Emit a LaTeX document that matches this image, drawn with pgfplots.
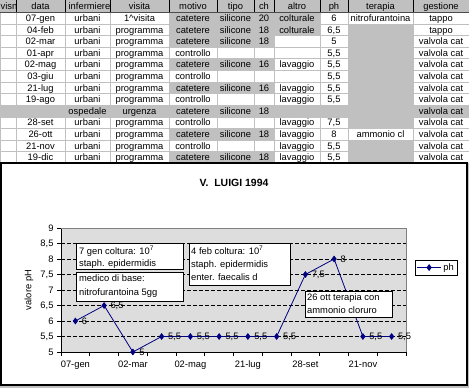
\documentclass[border=0pt]{standalone}
\usepackage{fontspec}
\setmainfont{Liberation Sans}
\usepackage{pgfplots}
\pgfplotsset{compat=1.18}
\definecolor{xlgray}{RGB}{192,192,192}
\definecolor{plotgray}{RGB}{221,221,221}
\definecolor{xnavy}{RGB}{0,0,128}
\definecolor{bordergray}{RGB}{128,128,128}
\newcommand{\cx}[1]{\ifcase\numexpr#1\relax 0\or 16\or 65\or 110\or 169\or 217\or 254\or 274\or 320\or 348\or 413\or 469\fi}
\newcommand{\wrow}[2]{%
 \foreach \c in {#2}{%
  \edef\xa{\cx{\c}}\edef\xb{\cx{\c+1}}%
  \pgfmathsetmacro{\ya}{12+(#1-1)*11.615}%
  \fill[white] (\xa+1,\ya+1) rectangle (\xb,\ya+11.615);}}
\newcommand{\ct}[3]{%
  \edef\xa{\cx{#2}}\edef\xb{\cx{#2+1}}%
  \pgfmathsetmacro{\xm}{(\xa+\xb)/2}%
  \pgfmathsetmacro{\yb}{12+(#1-1)*11.615+9.4}%
  \node[anchor=base,inner sep=0pt] at (\xm,\yb) {#3};}
\newcommand{\trow}[2]{\foreach \c/\t in {#2}{\ct{#1}{\c}{\t}}}
\newcommand{\tf}{\fontsize{9.4}{11}\selectfont}
\begin{document}
\begin{tikzpicture}[every node/.style={font=\tf}]
\useasboundingbox (0,0) rectangle (469bp,388bp);
\begin{scope}[x=1bp,y=-1bp,shift={(0,388bp)}]
\fill[xlgray] (0,0) rectangle (469,388);
% white cells
\wrow{1}{0,1,2,3,8,9,10}
\wrow{2}{0,1,2,3,8,10}
\wrow{3}{0,1,2,3,7,8,10}
\wrow{4}{0,1,2,3,4,5,6,7,8,10}
\wrow{5}{0,1,2,3,7,8,10}
\wrow{6}{0,1,2,3,4,5,6,7,8,10}
\wrow{7}{0,1,2,3,7,8,10}
\wrow{8}{0,1,2,3,4,5,6,7,8,10}
\wrow{10}{0,1,2,3,4,5,6,7,8,10}
\wrow{11}{0,1,2,3,7,8,9,10}
\wrow{12}{0,1,2,3,4,5,6,7,8,10}
\wrow{13}{0,1,2,3,7,8,10}
% header
\foreach \xx in {16,65,110,169,217,254,274,320,348,413}{\draw[black,line width=0.8bp] (\xx,0) -- (\xx,12.5);}
\draw[black!70,line width=0.8bp] (0,12.4) -- (469,12.4);
\begin{scope}\clip (0,0) rectangle (15.6,12);
\node[anchor=base west,inner sep=0pt] at (0.5,9.6) {visn};\end{scope}
\begin{scope}\clip (65.4,0) rectangle (110,12);
\node[anchor=base east,inner sep=0pt] at (110.5,9.6) {infermiere};\end{scope}
\foreach \c/\t in {1/data,3/visita,4/motivo,5/tipo,6/ch,7/altro,8/ph,9/terapia,10/gestione}{%
  \edef\xa{\cx{\c}}\edef\xb{\cx{\c+1}}%
  \pgfmathsetmacro{\xm}{(\xa+\xb)/2}%
  \node[anchor=base,inner sep=0pt] at (\xm,9.6) {\t};}
% data rows
\trow{1}{1/07-gen,2/urbani,3/1\textasciicircum visita,4/catetere,5/silicone,6/20,7/colturale,8/6,9/nitrofurantoina,10/tappo}
\trow{2}{1/04-feb,2/urbani,3/programma,4/catetere,5/silicone,6/18,7/colturale,8/{6,5},10/tappo}
\trow{3}{1/02-mar,2/urbani,3/programma,4/catetere,5/silicone,6/18,8/5,10/valvola cat}
\trow{4}{1/01-apr,2/urbani,3/programma,4/controllo,8/{5,5},10/valvola cat}
\trow{5}{1/02-mag,2/urbani,3/programma,4/catetere,5/silicone,6/16,7/lavaggio,8/{5,5},10/valvola cat}
\trow{6}{1/03-giu,2/urbani,3/programma,4/controllo,8/{5,5},10/valvola cat}
\trow{7}{1/21-lug,2/urbani,3/programma,4/catetere,5/silicone,6/16,7/lavaggio,8/{5,5},10/valvola cat}
\trow{8}{1/19-ago,2/urbani,3/programma,4/controllo,7/lavaggio,8/{5,5},10/valvola cat}
\trow{9}{2/ospedale,3/urgenza,4/catetere,5/silicone,6/18,10/valvola cat}
\trow{10}{1/28-set,2/urbani,3/programma,4/controllo,7/lavaggio,8/{7,5},10/valvola cat}
\trow{11}{1/26-ott,2/urbani,3/programma,4/catetere,5/silicone,6/18,7/lavaggio,8/8,9/ammonio cl,10/valvola cat}
\trow{12}{1/21-nov,2/urbani,3/programma,4/controllo,7/lavaggio,8/{5,5},10/valvola cat}
\trow{13}{1/19-dic,2/urbani,3/programma,4/catetere,5/silicone,6/18,7/lavaggio,8/{5,5},10/valvola cat}
% chart frame
\draw[black,line width=2bp,fill=white] (1.5,163.5) rectangle (466.5,385.5);
\node[font=\fontsize{10.5}{12}\selectfont\bfseries] at (234,182.5) {V.\ \ LUIGI 1994};
\node[rotate=90] at (29,290) {valore pH};
\end{scope}
\begin{axis}[
  at={(61bp,36bp)}, anchor=south west,
  scale only axis, width=345bp, height=124bp,
  xmin=0.5, xmax=12.5, ymin=5, ymax=9,
  clip=false,
  axis background/.style={fill=plotgray},
  axis x line*=bottom, axis y line*=left,
  axis line style={-, black, line width=0.8bp},
  ytick={5,5.5,...,9},
  ymajorgrids,
  grid style={black, dash pattern=on 3.5bp off 2.5bp, line width=0.6bp},
  xtick={0.5,1.5,...,12.5}, xticklabels={},
  extra x ticks={1,3,5,7,9,11},
  extra x tick labels={07-gen,02-mar,02-mag,21-lug,28-set,21-nov},
  extra x tick style={major tick length=0pt, grid=none, xticklabel style={yshift=-5bp}},
  tick align=outside, major tick length=4bp,
  xtick pos=bottom, ytick pos=left,
  tick style={black, line width=0.8bp},
  ticklabel style={font=\tf},
  /pgf/number format/use comma,
  /pgf/number format/assume math mode=true,
  legend style={at={(1.026,0.681)}, anchor=west, draw=black, fill=white,
    line width=0.7bp, inner sep=1.5bp, font=\tf, legend cell align=left},
  legend image code/.code={\draw[mark repeat=2,mark phase=2,#1] plot coordinates {(0cm,0cm) (0.42cm,0cm) (0.84cm,0cm)};},
]
\draw[bordergray, line width=0.8bp] (rel axis cs:0,1) -- (rel axis cs:1,1) -- (rel axis cs:1,0);
\addplot[xnavy, line width=0.8bp, mark=diamond*, mark size=2.8bp,
  mark options={fill=xnavy, solid},
  nodes near coords,
  every node near coord/.append style={anchor=west, xshift=5bp, inner sep=1bp, font=\tf, text=black}]
  coordinates {(1,6) (2,6.5) (3,5) (4,5.5) (5,5.5) (6,5.5) (7,5.5) (8,5.5) (9,7.5) (10,8) (11,5.5) (12,5.5)};
\addlegendentry{ph}
\end{axis}
\begin{scope}[x=1bp,y=-1bp,shift={(0,388bp)}]
\draw[black,line width=0.8bp,fill=white] (76,243) rectangle (183,269);
\node[anchor=north west,align=left,inner sep=0pt,font=\fontsize{9.4}{12.5}\selectfont] at (79,246) {7 gen coltura: 10\textsuperscript{7}\\staph. epidermidis};
\draw[black,line width=0.8bp,fill=white] (76,272) rectangle (183,301);
\node[anchor=north west,align=left,inner sep=0pt,font=\fontsize{9.4}{13.5}\selectfont] at (79,275) {medico di base:\\nitrofurantoina 5gg};
\draw[black,line width=0.8bp,fill=white] (189,243) rectangle (290,285);
\node[anchor=north west,align=left,inner sep=0pt,font=\fontsize{9.4}{13}\selectfont] at (191,246) {4 feb coltura: 10\textsuperscript{7}\\staph. epidermidis\\enter. faecalis d};
\draw[black,line width=0.8bp,fill=white] (305,291) rectangle (392,317);
\node[anchor=north west,align=left,inner sep=0pt,font=\fontsize{9.4}{13.5}\selectfont] at (307,293.5) {26 ott terapia con\\ammonio cloruro};
\end{scope}
\end{tikzpicture}
\end{document}
